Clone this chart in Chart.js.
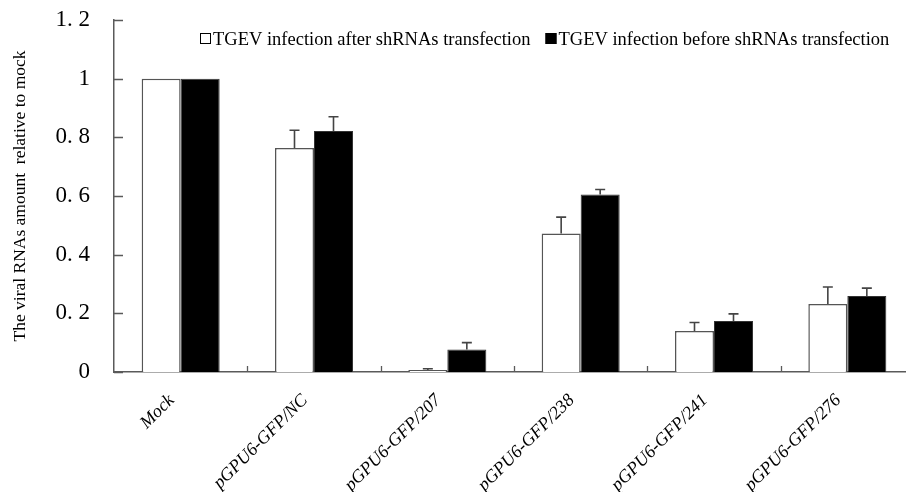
<!DOCTYPE html>
<html>
<head>
<meta charset="utf-8">
<script src="https://cdn.jsdelivr.net/npm/chart.js@4.4.0/dist/chart.umd.min.js"></script>
<style>
  html, body { margin: 0; padding: 0; background: #fff; overflow: hidden; }
  #wrap { width: 920px; height: 492px; position: relative; }
</style>
</head>
<body>
<div id="wrap"><canvas id="chart"></canvas></div>
<script>
// chart data
const categories = ['Mock', 'pGPU6-GFP/NC', 'pGPU6-GFP/207', 'pGPU6-GFP/238', 'pGPU6-GFP/241', 'pGPU6-GFP/276'];
const seriesNames = ['TGEV infection after shRNAs transfection', 'TGEV infection before shRNAs transfection'];
const afterValues = [1, 0.764, 0.007, 0.472, 0.14, 0.232];
const afterErrors = [0, 0.06, 0.004, 0.056, 0.029, 0.058];
const beforeValues = [1, 0.822, 0.077, 0.605, 0.174, 0.259];
const beforeErrors = [0, 0.048, 0.023, 0.017, 0.024, 0.027];
const yTicks = [0, 0.2, 0.4, 0.6, 0.8, 1, 1.2];

const errorsBySet = [afterErrors, beforeErrors];
const serif = '"Liberation Serif", "Times New Roman", serif';
const lineColor = '#5a5a5a';

/**
 * Upward error bars with a small cap
 */
const errorBarPlugin = {
  id: 'errorBars',
  afterDatasetsDraw(chart) {
    const ctx = chart.ctx;
    const y = chart.scales.y;
    ctx.save();
    ctx.strokeStyle = '#444';
    ctx.lineWidth = 1.6;
    chart.data.datasets.forEach((ds, di) => {
      const meta = chart.getDatasetMeta(di);
      meta.data.forEach((bar, i) => {
        const err = errorsBySet[di][i];
        if (!err) return;
        const top = y.getPixelForValue(ds.data[i] + err);
        ctx.beginPath();
        ctx.moveTo(bar.x, bar.y);
        ctx.lineTo(bar.x, top);
        ctx.moveTo(bar.x - 5, top);
        ctx.lineTo(bar.x + 5, top);
        ctx.stroke();
      });
    });
    ctx.restore();
  }
};

/**
 * Inside tick marks and the legend box in the top area
 */
const decorPlugin = {
  id: 'decor',
  afterDraw(chart) {
    const ctx = chart.ctx;
    const area = chart.chartArea;
    const y = chart.scales.y;
    ctx.save();
    ctx.strokeStyle = lineColor;
    ctx.lineWidth = 1.3;
    ctx.beginPath();
    y.ticks.forEach(t => {
      const py = Math.round(y.getPixelForValue(t.value)) + 0.5;
      ctx.moveTo(area.left, py);
      ctx.lineTo(area.left + 9, py);
    });
    const step = (area.right - area.left) / categories.length;
    for (let i = 1; i < categories.length; i++) {
      const px = Math.round(area.left + i * step) + 0.5;
      ctx.moveTo(px, area.bottom);
      ctx.lineTo(px, area.bottom - 6);
    }
    ctx.stroke();

    // legend
    ctx.font = '18.5px ' + serif;
    ctx.textBaseline = 'alphabetic';
    let lx = 200;
    chart.data.datasets.forEach((ds, di) => {
      ctx.fillStyle = di === 0 ? '#fff' : '#000';
      ctx.fillRect(lx, 33, 11, 11);
      ctx.strokeStyle = '#000';
      ctx.lineWidth = 1;
      ctx.strokeRect(lx + 0.5, 33.5, 10, 10);
      ctx.fillStyle = '#000';
      ctx.fillText(ds.label, lx + 13, 45);
      lx += 13 + ctx.measureText(ds.label).width + 15;
    });
    ctx.restore();
  }
};

const chart = new Chart(document.getElementById('chart'), {
  type: 'bar',
  data: {
    labels: categories,
    datasets: [
      {
        label: seriesNames[0],
        data: afterValues,
        backgroundColor: '#fff',
        borderColor: '#555',
        borderWidth: 1.5,
        categoryPercentage: 0.585,
        barPercentage: 1
      },
      {
        label: seriesNames[1],
        data: beforeValues,
        backgroundColor: '#000',
        borderColor: '#333',
        borderWidth: 1,
        categoryPercentage: 0.585,
        barPercentage: 1
      }
    ]
  },
  options: {
    responsive: true,
    maintainAspectRatio: false,
    animation: false,
    layout: { padding: { top: 20, right: 6, left: 0, bottom: 0 } },
    plugins: {
      legend: { display: false },
      tooltip: { enabled: false }
    },
    scales: {
      x: {
        grid: { display: false, drawTicks: false },
        border: { display: true, color: lineColor, width: 1.5 },
        ticks: {
          maxRotation: 45,
          minRotation: 45,
          padding: 18,
          labelOffset: -9,
          color: '#000',
          font: { family: serif, size: 18, style: 'italic' }
        },
        afterFit(scale) { scale.height = 120; }
      },
      y: {
        min: 0,
        max: 1.2,
        afterBuildTicks(scale) { scale.ticks = yTicks.map(v => ({ value: v })); },
        grid: { display: false, drawTicks: false },
        border: { display: true, color: lineColor, width: 1.5 },
        ticks: {
          padding: 24,
          color: '#000',
          font: { family: serif, size: 23 },
          callback(v) {
            if (v === 0 || v === 1) return String(v);
            return v.toFixed(1).replace('.', '. ');
          }
        },
        title: {
          display: true,
          text: 'The viral RNAs amount  relative to mock',
          color: '#000',
          padding: { top: 10, bottom: 0 },
          font: { family: serif, size: 17.5 }
        },
        afterFit(scale) {
          scale.width = 114;
          scale.paddingTop = 0;
          scale.paddingBottom = 0;
        }
      }
    }
  },
  plugins: [errorBarPlugin, decorPlugin]
});
</script>
</body>
</html>
